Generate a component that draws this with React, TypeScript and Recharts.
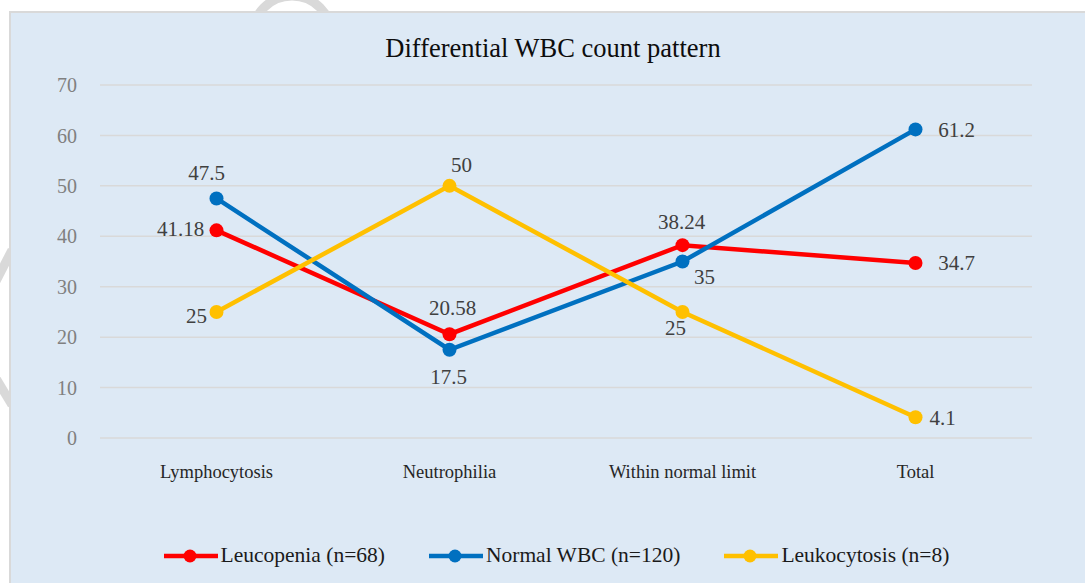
import React from 'react';
import { LineChart, Line, XAxis, YAxis, CartesianGrid, Legend, LabelList } from 'recharts';

const categories = ['Lymphocytosis', 'Neutrophilia', 'Within normal limit', 'Total'];
const leucopenia = [41.18, 20.58, 38.24, 34.7];
const normalWbc = [47.5, 17.5, 35, 61.2];
const leukocytosis = [25, 50, 25, 4.1];
const yTicks = [0, 10, 20, 30, 40, 50, 60, 70];

const seriesList = [
  { key: 'leucopenia', name: 'Leucopenia (n=68)', color: '#FF0000' },
  { key: 'normal', name: 'Normal WBC (n=120)', color: '#0070C0' },
  { key: 'leukocytosis', name: 'Leukocytosis (n=8)', color: '#FFC000' },
];

const data = categories.map((c, i) => ({
  category: c,
  leucopenia: leucopenia[i],
  normal: normalWbc[i],
  leukocytosis: leukocytosis[i],
}));

// label offsets (style) per point: [dx, dy]
const labelOffsets: Record<string, number[][]> = {
  leucopenia: [[-36, -1], [3, -26], [-1, -23], [41, 0]],
  normal: [[-10, -25], [-1, 27], [22, 15], [41, 1]],
  leukocytosis: [[-20, 4], [12, -21], [-7, 16], [27, 1]],
};

const FONT = '"Liberation Serif", "Times New Roman", serif';

const makeLabel = (offsets: number[][]) => (props: any) => {
  const { x, y, value, index } = props;
  const [dx, dy] = offsets[index] || [0, 0];
  return (
    <text
      x={Number(x) + dx}
      y={Number(y) + dy}
      textAnchor="middle"
      dominantBaseline="central"
      fill="#404040"
      fontSize={21}
      fontFamily={FONT}
    >
      {value}
    </text>
  );
};

const LegendContent = () => (
  <div
    style={{
      height: 30,
      boxSizing: 'border-box',
      display: 'flex',
      alignItems: 'center',
      justifyContent: 'center',
      paddingLeft: 18,
      paddingTop: 3,
      fontFamily: FONT,
      fontSize: 21.5,
      color: '#1a1a1a',
    }}
  >
    {seriesList.map((s, i) => (
      <div key={s.key} style={{ display: 'flex', alignItems: 'center', marginRight: i < seriesList.length - 1 ? 44 : 0 }}>
        <svg width={54} height={16} style={{ marginRight: 3 }}>
          <line x1={0} y1={8} x2={54} y2={8} stroke={s.color} strokeWidth={4.5} />
          <circle cx={26} cy={8} r={6.5} fill={s.color} />
        </svg>
        <span>{s.name}</span>
      </div>
    ))}
  </div>
);

export default function App() {
  return (
    <div
      style={{
        position: 'fixed',
        left: 0,
        top: 0,
        width: 1085,
        height: 583,
        overflow: 'hidden',
        background: '#ffffff',
      }}
    >
      <svg width={1085} height={583} style={{ position: 'absolute', left: 0, top: 0 }}>
        <circle cx={292} cy={36} r={40} fill="none" stroke="#d9d9d9" strokeWidth={9} />
        <path d="M 12 250 L -6 285" stroke="#d9d9d9" strokeWidth={9} fill="none" />
        <path d="M -6 375 L 12 405" stroke="#d9d9d9" strokeWidth={9} fill="none" />
      </svg>
      <div
        style={{
          position: 'absolute',
          left: 9,
          top: 11,
          width: 1100,
          height: 600,
          background: '#DDE9F5',
          border: '2px solid #D9D9D9',
          boxSizing: 'border-box',
        }}
      />
      <div
        style={{
          position: 'absolute',
          left: 10,
          top: 31,
          width: 1086,
          textAlign: 'center',
          fontFamily: FONT,
          fontSize: 26.5,
          color: '#0d0d0d',
          lineHeight: '34px',
        }}
      >
        Differential WBC count pattern
      </div>
      <div style={{ position: 'absolute', left: 10, top: 12 }}>
        <LineChart
          width={1075}
          height={571}
          data={data}
          margin={{ top: 73, right: 53, left: 0, bottom: 14 }}
        >
          <CartesianGrid vertical={false} stroke="#D9D9D9" strokeWidth={1.5} />
          <XAxis
            dataKey="category"
            axisLine={false}
            tickLine={false}
            padding={{ left: 116.5, right: 116.5 }}
            height={101}
            tickMargin={21}
            interval={0}
            tick={{ fill: '#262626', fontSize: 18.5, fontFamily: FONT }}
          />
          <YAxis
            domain={[0, 70]}
            ticks={yTicks}
            axisLine={false}
            tickLine={false}
            width={90}
            tickMargin={17}
            tick={{ fill: '#808080', fontSize: 20, fontFamily: FONT }}
          />
          <Legend
            verticalAlign="bottom"
            align="center"
            wrapperStyle={{ left: 0, width: 1075 }}
            content={<LegendContent />}
          />
          {seriesList.map((s) => (
            <Line
              key={s.key}
              type="linear"
              dataKey={s.key}
              name={s.name}
              stroke={s.color}
              strokeWidth={4.5}
              dot={{ r: 7, fill: s.color, stroke: 'none' }}
              activeDot={false}
              isAnimationActive={false}
            >
              <LabelList dataKey={s.key} content={makeLabel(labelOffsets[s.key])} />
            </Line>
          ))}
        </LineChart>
      </div>
    </div>
  );
}
